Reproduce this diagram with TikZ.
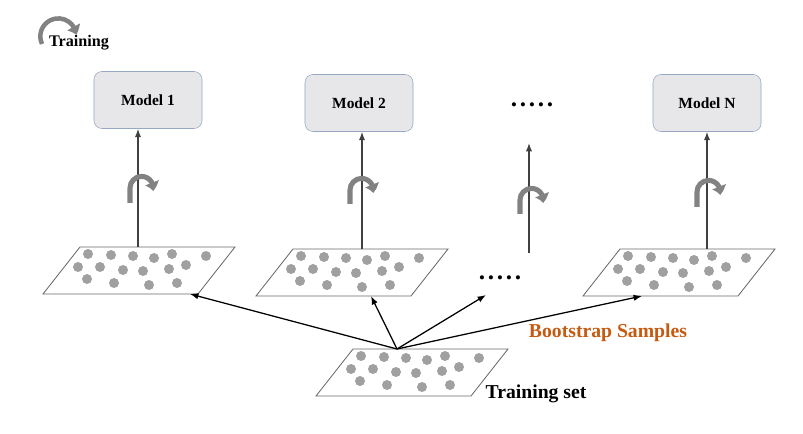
\documentclass[tikz,border=0pt]{standalone}
\usepackage{fontspec}
\setmainfont{Liberation Serif}
\usetikzlibrary{arrows.meta,bending}

\definecolor{boxfill}{RGB}{231,231,233}
\definecolor{boxline}{RGB}{150,168,196}
\definecolor{dotgray}{RGB}{160,160,160}
\definecolor{planeline}{RGB}{105,105,105}
\definecolor{curlgray}{RGB}{130,130,130}
\definecolor{bootorange}{RGB}{197,90,17}

\tikzset{
    model/.style={shape=rectangle,rounded corners=0.2cm,draw=boxline,fill=boxfill,
        minimum width=2.7cm,minimum height=1.425cm,font=\fontsize{11}{13}\selectfont\bfseries},
    plane/.style={draw=planeline,line width=0.6pt},
    sample/.style={fill=dotgray},
    curl/.style={draw=curlgray,line width=3.6pt,-{Triangle[bend,width=10pt,length=6pt]}},
    up/.style={draw=black!75,line width=0.9pt,-{Latex[length=6pt,width=4.5pt]}},
    boot/.style={draw=black,line width=0.9pt,-{Latex[length=6pt,width=4.5pt]}},
    label/.style={font=\fontsize{14}{16}\selectfont\bfseries},
    etc/.style={font=\fontsize{18}{20}\selectfont\bfseries}
}

\begin{document}
\begin{tikzpicture}[x=0.025cm,y=0.025cm]
    \useasboundingbox (0,0) rectangle (803,434);

    % sample planes with their points
    \foreach \tx/\ty in {80/187,293/185,620/185,353/85}{
        \draw[plane] (\tx,\ty) -- ++(155,0) -- ++(-37,-47) -- ++(-155,0) -- cycle;
        \foreach \dx/\dy in {8/7,31/8,53/9,74/11,92/7,126/9,-2/20,20/20,43/23,63/24,89/22,106/18,7/32,34/36,69/38,97/36}
            \fill[sample] (\tx+\dx,\ty-\dy) circle[radius=0.125cm];
    }

    \coordinate (T) at (397,85);
    \coordinate (S1in) at (190,140);
    \coordinate (S2in) at (371,138);
    \coordinate (Din) at (486,139);
    \coordinate (SNin) at (642,138);
    \coordinate (S1) at (138,187);
    \coordinate (S2) at (362,185);
    \coordinate (SN) at (707,185);
    \coordinate (D) at (529,181);
    \coordinate (Dtop) at (529,291);

    \node[model] (M1) at (148,334) {Model 1};
    \node[model] (M2) at (359,331) {Model 2};
    \node[model] (MN) at (707,331) {Model N};

    \node[etc] (dotsup) at (532,329) {.\kern1.9pt.\kern1.9pt.\kern1.9pt.\kern1.9pt.};
    \node[etc] (dotslow) at (500,156) {.\kern1.9pt.\kern1.9pt.\kern1.9pt.\kern1.9pt.};

    \node[label,text=bootorange] (boot) at (608,101) {Bootstrap Samples};
    \node[label] (tset) at (536,40) {Training set};
    \node[font=\fontsize{11.5}{13}\selectfont\bfseries] (train) at (79,391) {Training};

    \draw[up] (S1) -- (S1 |- M1.south);
    \draw[up] (S2) -- (S2 |- M2.south);
    \draw[up] (SN) -- (SN |- MN.south);
    \draw[up] (D) -- (Dtop);

    \draw[boot] (T) -- (S1in);
    \draw[boot] (T) -- (S2in);
    \draw[boot] (T) -- (Din);
    \draw[boot] (T) -- (SNin);

    % training arrows
    \draw[curl] (130,231) -- (130,246) arc[start angle=180,end angle=-15,radius=0.29cm];
    \draw[curl] (350,230) -- (350,244) arc[start angle=180,end angle=-15,radius=0.29cm];
    \draw[curl] (520,220) -- (520,234) arc[start angle=180,end angle=-15,radius=0.29cm];
    \draw[curl] (697,227) -- (697,242) arc[start angle=180,end angle=-15,radius=0.29cm];
    \draw[curl,line width=3.2pt] (42,390) arc[start angle=205,end angle=5,radius=0.45cm];
\end{tikzpicture}
\end{document}
